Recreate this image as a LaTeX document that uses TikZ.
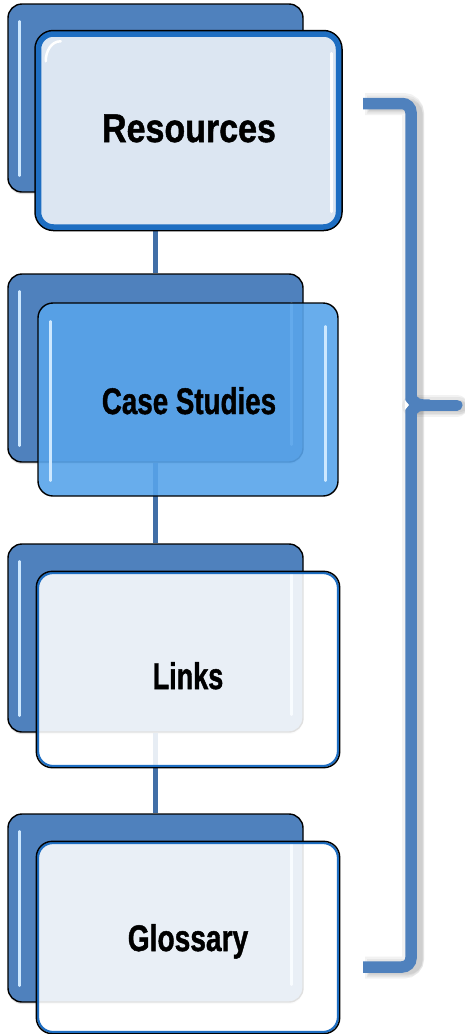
\documentclass[tikz,border=0pt]{standalone}
\usepackage{fontspec}
\setmainfont{Liberation Sans}
\newfontfamily\lblfont[FakeBold=1.3]{Liberation Sans Bold}
\usetikzlibrary{shadows}
\definecolor{backblue}{HTML}{4F81BD}
\definecolor{bandblue}{HTML}{1E6EC2}
\definecolor{paleblue}{HTML}{DCE6F2}
\definecolor{midblue}{HTML}{58A4EA}
\definecolor{connblue}{HTML}{416FA7}
\definecolor{hilite}{HTML}{CDE8FF}
\begin{document}
\begin{tikzpicture}[x=1pt,y=-1pt,
  backbox/.style={draw=black, line width=1.4pt, fill=backblue, rounded corners=14pt,
    minimum width=295pt, minimum height=188pt, inner sep=0pt,
    drop shadow={opacity=0.25, shadow xshift=0pt, shadow yshift=-2pt}},
  frontbase/.style={rounded corners=15pt, minimum width=300pt, minimum height=193pt, inner sep=0pt},
  frontA/.style={frontbase, fill=paleblue, draw=bandblue, line width=5.5pt,
    preaction={draw=black, line width=8.5pt}},
  frontB/.style={frontbase, draw=black, line width=1.4pt, fill=midblue, fill opacity=0.9},
  frontC/.style={frontbase, draw=bandblue, line width=2.2pt, fill=white, fill opacity=0.88},
  outline/.style={draw=black, line width=1.4pt, rounded corners=16pt},
  highlight/.style={draw=hilite, line width=2.5pt, line cap=round},
  conn/.style={draw=connblue, line width=5.5pt},
  brace/.style={draw=backblue, line width=11.5pt, rounded corners=9pt},
  braceshadow/.style={draw=black, rounded corners=9pt, opacity=0.05},
  lbl/.style={anchor=base, inner sep=0pt, text=black},
]
\useasboundingbox (0,0) rectangle (464,1034);

% back boxes
\node[backbox] (b1) at (155.5,98) {};
\node[backbox] (b2) at (155.5,368) {};
\node[backbox] (b3) at (155.5,638) {};
\node[backbox] (b4) at (155.5,908) {};
\foreach \b in {b1,b2,b3,b4}{
  \draw[highlight] ([xshift=12pt,yshift=-18pt]\b.north west) -- ([xshift=12pt,yshift=17pt]\b.south west);
  \draw[highlight] ([xshift=-12pt,yshift=-30pt]\b.north east) -- ([xshift=-12pt,yshift=18pt]\b.south east);
}

% connectors
\draw[conn] (b1.south) -- (b2.north);
\draw[conn] (b2.south) -- (b3.north);
\draw[conn] (b3.south) -- (b4.north);

% front boxes
\node[frontA] (f1) at (188.5,130.5) {};
\draw[draw=white, line width=2.5pt, line cap=round] ([xshift=-10pt,yshift=-22pt]f1.north east) -- ([xshift=-10pt,yshift=18pt]f1.south east);
\draw[draw=white, line width=2.5pt, line cap=round] ([xshift=10pt,yshift=-30pt]f1.north west) to[out=90,in=180] ([xshift=25pt,yshift=-10pt]f1.north west);

\node[frontB] (f2) at (188,399.5) {};
\draw[highlight] ([xshift=13pt,yshift=-19pt]f2.north west) -- ([xshift=13pt,yshift=16pt]f2.south west);
\draw[highlight] ([xshift=-13pt,yshift=-24pt]f2.north east) -- ([xshift=-13pt,yshift=16pt]f2.south east);

\node[frontC] (f3) at (188,669.5) {};
\draw[outline] ([xshift=-0.6pt,yshift=0.6pt]f3.north west) rectangle ([xshift=0.6pt,yshift=-0.6pt]f3.south east);

\node[frontC, minimum height=189pt] (f4) at (188,937.5) {};
\draw[outline] ([xshift=-0.6pt,yshift=0.6pt]f4.north west) rectangle ([xshift=0.6pt,yshift=-0.6pt]f4.south east);

% labels
\node[lbl] (t1) at (189,142) {\fontsize{40}{44}\selectfont\lblfont\scalebox{0.85}[1]{Resources}};
\node[lbl] (t2) at (189,414) {\fontsize{37}{40}\selectfont\lblfont\scalebox{0.75}[1]{Case Studies}};
\node[lbl] (t3) at (188,689) {\fontsize{37}{40}\selectfont\lblfont\scalebox{0.73}[1]{Links}};
\node[lbl] (t4) at (188,951) {\fontsize{37}{40}\selectfont\lblfont\scalebox{0.76}[1]{Glossary}};

% brace shadow
\foreach \d/\w in {2/22,4/18,5/14,6/11}{
  \draw[braceshadow, line width=\w pt] (363+\d,103.5+\d*0.3) -- (411+\d,103.5+\d*0.3) -- (411+\d,967+\d*0.3) -- (363+\d,967+\d*0.3);
  \draw[braceshadow, line width=\w pt, line cap=round] (411+\d,405+\d*0.3) -- (455+\d,405+\d*0.3);
}
% brace
\draw[brace] (363,103.5) -- (411,103.5) -- (411,967) -- (363,967);
\draw[draw=backblue, line width=11pt, line cap=round] (411,405) -- (457,405);
\fill[backblue] (416,392) .. controls (416,399) and (420,399.5) .. (430,399.5) -- (430,410.5) .. controls (420,410.5) and (416,411) .. (416,418) -- cycle;
\fill[white] (404.9,400) -- (409,405) -- (404.9,410) -- cycle;
\end{tikzpicture}
\end{document}
